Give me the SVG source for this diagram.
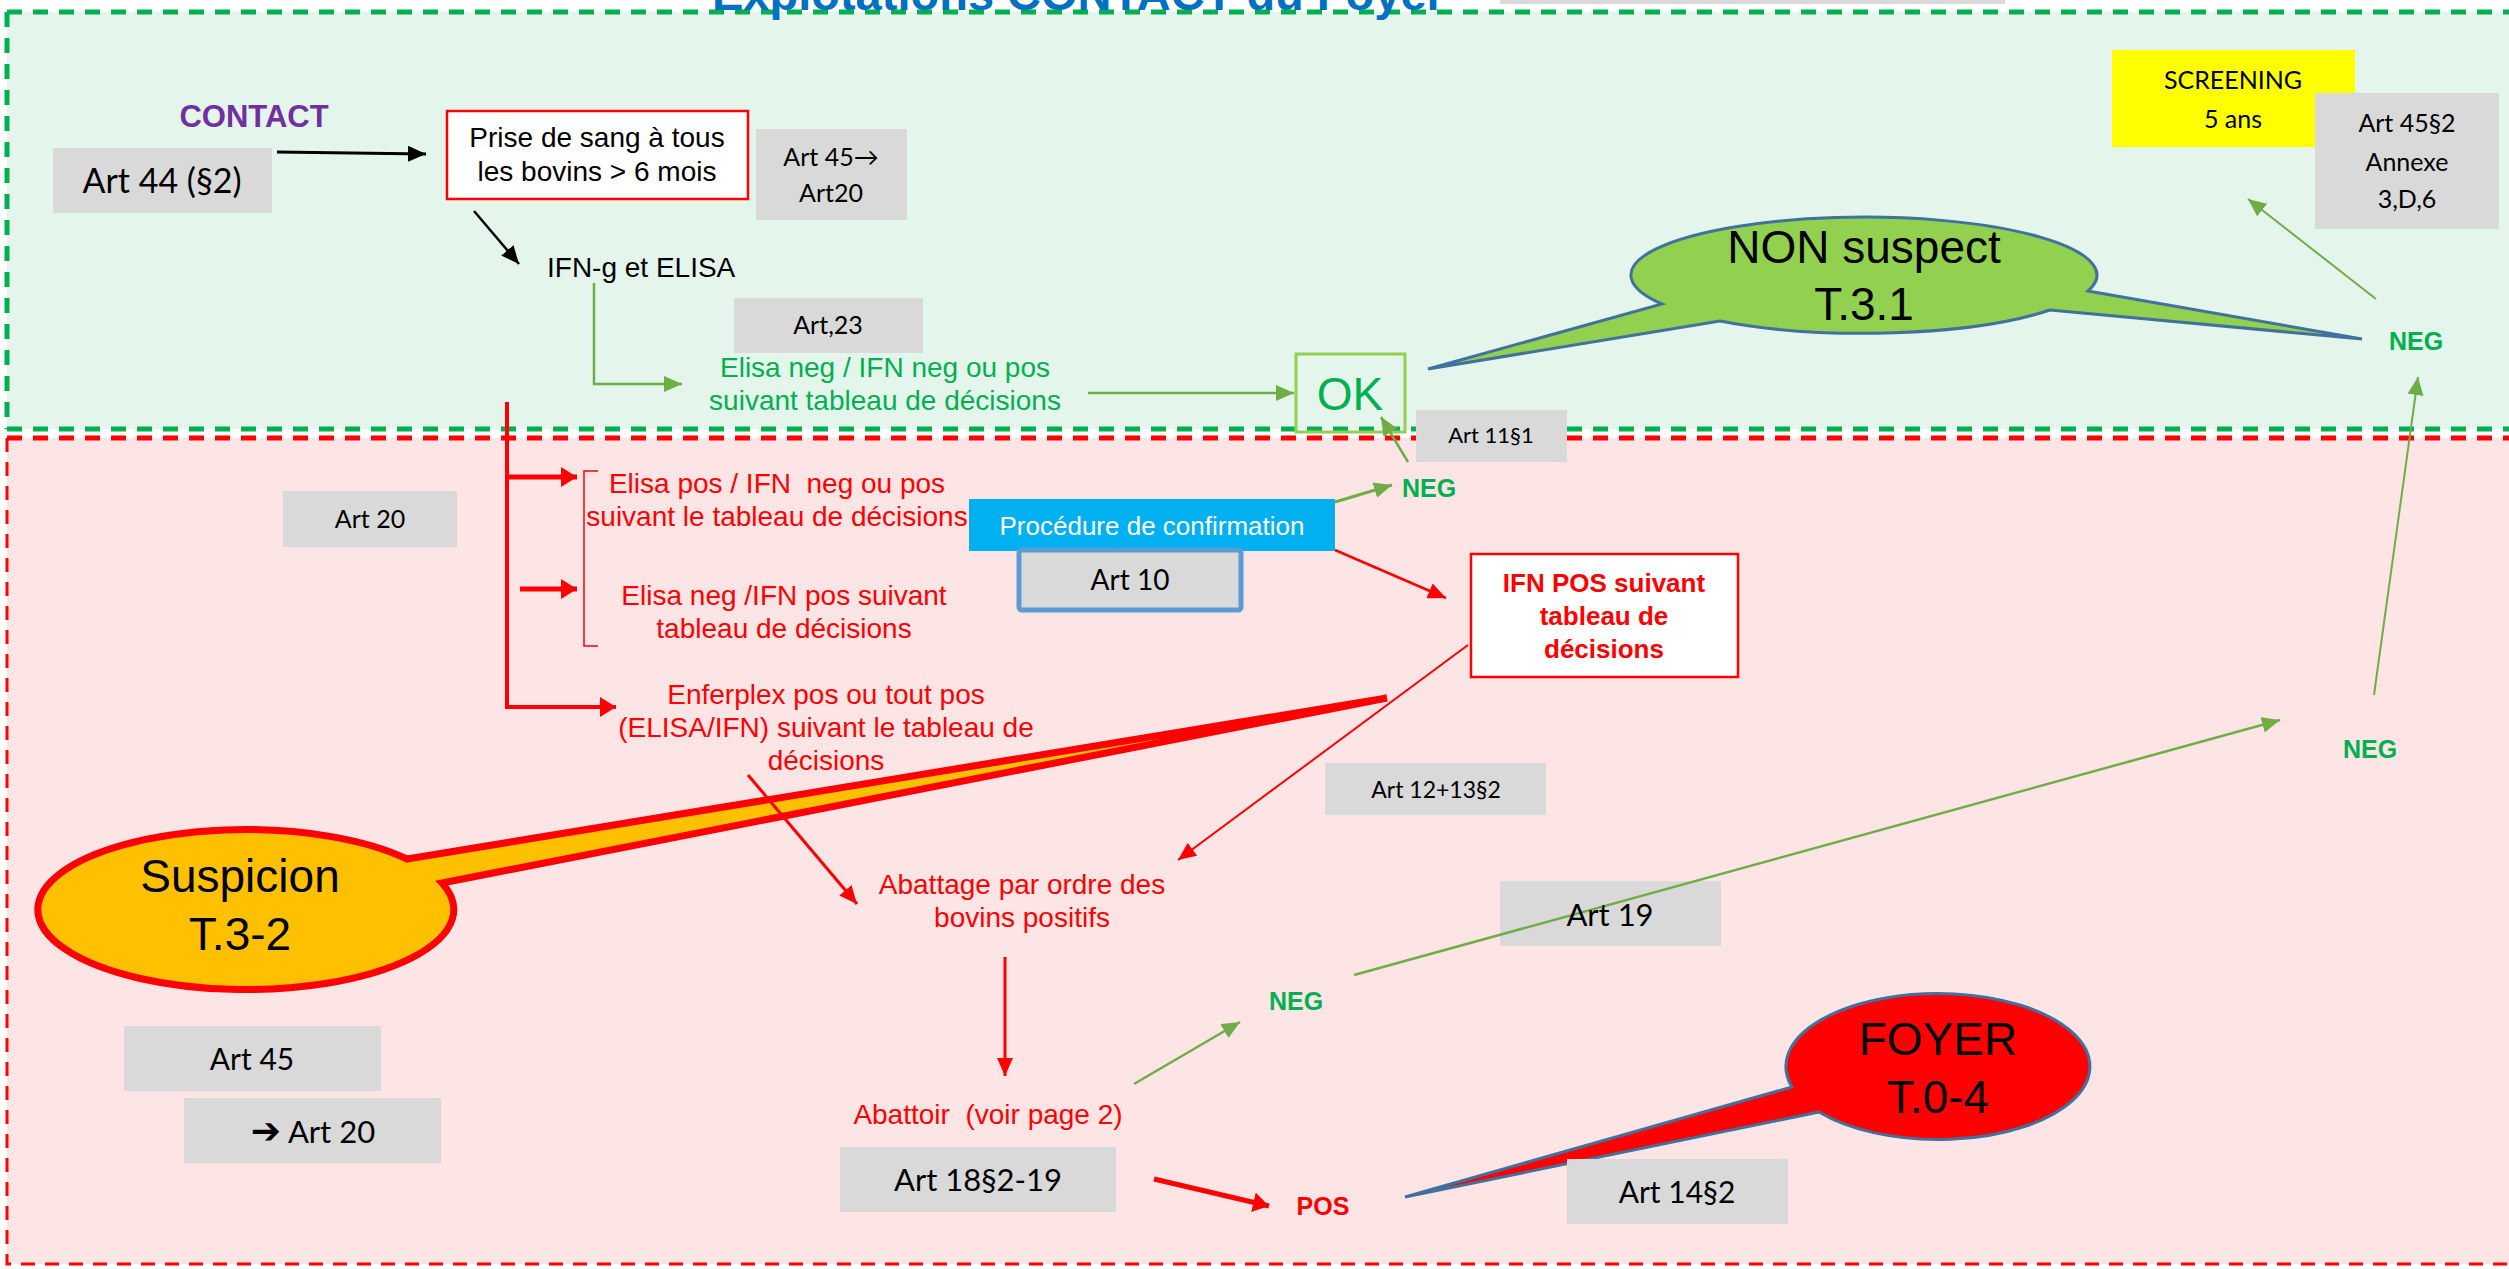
<svg xmlns="http://www.w3.org/2000/svg" width="2509" height="1269" viewBox="0 0 2509 1269">
<defs>
<style>
.ar{font-family:"Liberation Sans",Arial,sans-serif;}
.cal{font-family:Lato,"Liberation Sans",sans-serif;fill:#000;}
.gbox{fill:#D9D9D9;}
.red{fill:#FF0000;}
.grn{fill:#00B050;}
.b{font-weight:bold;}
.pre{white-space:pre;}
</style>
<marker id="mk-black" markerUnits="userSpaceOnUse" markerWidth="18" markerHeight="16" viewBox="0 0 18 16" refX="18" refY="8" orient="auto"><path d="M0,0 L18,8 L0,16 z" fill="#000"/></marker>
<marker id="mk-green" markerUnits="userSpaceOnUse" markerWidth="18" markerHeight="16" viewBox="0 0 18 16" refX="18" refY="8" orient="auto"><path d="M0,0 L18,8 L0,16 z" fill="#70AD47"/></marker>
<marker id="mk-red" markerUnits="userSpaceOnUse" markerWidth="18" markerHeight="16" viewBox="0 0 18 16" refX="18" refY="8" orient="auto"><path d="M0,0 L18,8 L0,16 z" fill="#FF0000"/></marker>
<marker id="mk-redbig" markerUnits="userSpaceOnUse" markerWidth="16" markerHeight="20" viewBox="0 0 16 20" refX="16" refY="10" orient="auto"><path d="M0,0 L16,10 L0,20 z" fill="#FF0000"/></marker>
</defs>
<rect width="2509" height="1269" fill="#FFFFFF"/>
<!-- zones -->
<g id="zone-green">
<rect x="7" y="12" width="2510" height="417" fill="#E4F6EC"/>
<path d="M7,12 H2509 M7,12 V429 M7,429 H2509" fill="none" stroke="#00B050" stroke-width="5" stroke-dasharray="15,11"/>
</g>
<g id="zone-red">
<rect x="7" y="438" width="2510" height="826" fill="#FDE5E5"/>
<path d="M7,438 H2509" fill="none" stroke="#FF0000" stroke-width="5" stroke-dasharray="15,11"/>
<path d="M7,438 V1264 H2509" fill="none" stroke="#FF0000" stroke-width="3" stroke-dasharray="14,10"/>
</g>
<rect x="1500" y="0" width="505" height="4" fill="#D9D9D9"/>
<text class="ar b" x="712" y="10" font-size="47" fill="#0070C0">Explotations CONTACT du Foyer</text>

<!-- nodes -->
<g id="n-contact"><text class="ar b" x="254" y="127" font-size="31" fill="#7030A0" text-anchor="middle">CONTACT</text></g>
<g id="n-art44"><rect class="gbox" x="53" y="148" width="219" height="65"/><text class="cal" x="162" y="193" font-size="34" text-anchor="middle">Art 44 (§2)</text></g>
<g id="n-prise"><rect x="447" y="111" width="301" height="88" fill="#FFFFFF" stroke="#FF0000" stroke-width="2.5"/>
<text class="ar" x="597" y="147" font-size="28" text-anchor="middle">Prise de sang à tous</text>
<text class="ar" x="597" y="181" font-size="28" text-anchor="middle">les bovins &gt; 6 mois</text></g>
<g id="n-art45-20"><rect class="gbox" x="756" y="129" width="151" height="91"/>
<text class="cal" x="831" y="166" font-size="25" text-anchor="middle">Art 45→</text>
<text class="cal" x="831" y="202" font-size="25" text-anchor="middle">Art20</text></g>
<g id="n-ifng"><text class="ar" x="547" y="277" font-size="28">IFN-g et ELISA</text></g>
<g id="n-art23"><rect class="gbox" x="734" y="298" width="189" height="55"/><text class="cal" x="828" y="334" font-size="25" text-anchor="middle">Art,23</text></g>
<g id="n-elisaneg"><text class="ar grn" x="885" y="377" font-size="28" text-anchor="middle">Elisa neg / IFN neg ou pos</text>
<text class="ar grn" x="885" y="410" font-size="28" text-anchor="middle">suivant tableau de décisions</text></g>
<g id="n-ok"><rect x="1296" y="354" width="109" height="78" fill="none" stroke="#92D050" stroke-width="3"/>
<text class="ar grn" x="1350" y="410" font-size="46" text-anchor="middle">OK</text></g>
<g id="n-nonsuspect">
<path d="M2088,291 L2362,339 L2050,310 A233,58 0 0 1 1720,321 L1428,369 L1662,304 A233,58 0 1 1 2088,291 Z" fill="#92D050" stroke="#41719C" stroke-width="3"/>
<text class="ar" x="1864" y="263" font-size="46" text-anchor="middle">NON suspect</text>
<text class="ar" x="1864" y="320" font-size="46" text-anchor="middle">T.3.1</text></g>
<g id="n-screening"><rect x="2112" y="50" width="243" height="97" fill="#FFFF00"/>
<text class="cal" x="2233" y="89" font-size="25" text-anchor="middle">SCREENING</text>
<text class="cal" x="2233" y="128" font-size="25" text-anchor="middle">5 ans</text></g>
<g id="n-art45-2"><rect class="gbox" x="2315" y="93" width="184" height="136"/>
<text class="cal" x="2407" y="132" font-size="25" text-anchor="middle">Art 45§2</text>
<text class="cal" x="2407" y="171" font-size="25" text-anchor="middle">Annexe</text>
<text class="cal" x="2407" y="208" font-size="25" text-anchor="middle">3,D,6</text></g>
<g id="n-neg-top"><text class="ar b grn" x="2416" y="350" font-size="25" text-anchor="middle">NEG</text></g>
<g id="n-art11"><rect class="gbox" x="1416" y="410" width="151" height="52"/><text class="cal" x="1491" y="443" font-size="22" text-anchor="middle">Art 11§1</text></g>
<g id="n-neg-mid"><text class="ar b grn" x="1429" y="497" font-size="25" text-anchor="middle">NEG</text></g>
<g id="n-art20"><rect class="gbox" x="283" y="491" width="174" height="56"/><text class="cal" x="370" y="528" font-size="25" text-anchor="middle">Art 20</text></g>
<g id="n-elisapos"><path d="M598,471 H584 V646 H598" fill="none" stroke="#FF0000" stroke-width="1.5"/>
<text class="ar red pre" x="777" y="493" font-size="28" text-anchor="middle">Elisa pos / IFN  neg ou pos</text>
<text class="ar red" x="777" y="526" font-size="28" text-anchor="middle">suivant le tableau de décisions</text></g>
<g id="n-elisaneg-ifnpos"><text class="ar red" x="784" y="605" font-size="28" text-anchor="middle">Elisa neg /IFN pos suivant</text>
<text class="ar red" x="784" y="638" font-size="28" text-anchor="middle">tableau de décisions</text></g>
<g id="n-enferplex"><text class="ar red" x="826" y="704" font-size="28" text-anchor="middle">Enferplex pos ou tout pos</text>
<text class="ar red" x="826" y="737" font-size="28" text-anchor="middle">(ELISA/IFN) suivant le tableau de</text>
<text class="ar red" x="826" y="770" font-size="28" text-anchor="middle">décisions</text></g>
<g id="n-procedure"><rect x="969" y="499" width="366" height="52" fill="#00B0F0"/>
<text class="ar" x="1152" y="535" font-size="26" fill="#FFFFFF" text-anchor="middle">Procédure de confirmation</text></g>
<g id="n-art10"><rect x="1019" y="550" width="222" height="60" rx="3" fill="#D9D9D9" stroke="#5B9BD5" stroke-width="5"/>
<text class="cal" x="1130" y="590" font-size="28" text-anchor="middle">Art 10</text></g>
<g id="n-ifnpos"><rect x="1471" y="554" width="267" height="123" fill="#FFFFFF" stroke="#FF0000" stroke-width="2.5"/>
<text class="ar b red" x="1604" y="592" font-size="26" text-anchor="middle">IFN POS suivant</text>
<text class="ar b red" x="1604" y="625" font-size="26" text-anchor="middle">tableau de</text>
<text class="ar b red" x="1604" y="658" font-size="26" text-anchor="middle">décisions</text></g>
<g id="n-art12"><rect class="gbox" x="1325" y="763" width="221" height="52"/><text class="cal" x="1436" y="798" font-size="23" text-anchor="middle">Art 12+13§2</text></g>
<g id="n-neg-right"><text class="ar b grn" x="2370" y="758" font-size="25" text-anchor="middle">NEG</text></g>
<g id="n-suspicion">
<path d="M407,859 L1387,698 L442,883 A208,80 0 1 1 407,859 Z" fill="#FFC000" stroke="#FF0000" stroke-width="7" stroke-linejoin="miter"/>
<text class="ar" x="240" y="892" font-size="46" text-anchor="middle">Suspicion</text>
<text class="ar" x="240" y="950" font-size="46" text-anchor="middle">T.3-2</text></g>
<g id="n-abattage"><text class="ar red" x="1022" y="894" font-size="28" text-anchor="middle">Abattage par ordre des</text>
<text class="ar red" x="1022" y="927" font-size="28" text-anchor="middle">bovins positifs</text></g>
<g id="n-art19"><rect class="gbox" x="1500" y="881" width="221" height="65"/></g>
<g id="n-neg-low"><text class="ar b grn" x="1296" y="1010" font-size="25" text-anchor="middle">NEG</text></g>
<g id="n-abattoir"><text class="ar red pre" x="988" y="1124" font-size="28" text-anchor="middle">Abattoir  (voir page 2)</text></g>
<g id="n-art18"><rect class="gbox" x="840" y="1147" width="276" height="65"/><text class="cal" x="978" y="1191" font-size="31" text-anchor="middle">Art 18§2-19</text></g>
<g id="n-pos"><text class="ar b red" x="1323" y="1215" font-size="25" text-anchor="middle">POS</text></g>
<g id="n-foyer">
<path d="M1819,1112 L1405,1197 L1792,1087 A152,73 0 1 1 1819,1112 Z" fill="#FF0000" stroke="#41719C" stroke-width="3"/>
<text class="ar" x="1938" y="1055" font-size="46" text-anchor="middle">FOYER</text>
<text class="ar" x="1938" y="1113" font-size="46" text-anchor="middle">T.0-4</text></g>
<g id="n-art14"><rect class="gbox" x="1567" y="1159" width="221" height="65"/><text class="cal" x="1677" y="1203" font-size="30" text-anchor="middle">Art 14§2</text></g>
<g id="n-art45"><rect class="gbox" x="124" y="1026" width="257" height="65"/><text class="cal" x="252" y="1070" font-size="30" text-anchor="middle">Art 45</text></g>
<g id="n-art20b"><rect class="gbox" x="184" y="1098" width="257" height="65"/><text class="cal" x="313" y="1143" font-size="31" text-anchor="middle"><tspan font-family="'DejaVu Sans',sans-serif" font-weight="bold" font-size="36">➔</tspan> Art 20</text></g>

<!-- connectors -->
<g id="connectors" fill="none">
<line x1="277" y1="152" x2="426" y2="154" stroke="#000" stroke-width="3" marker-end="url(#mk-black)"/>
<line x1="474" y1="211" x2="519" y2="264" stroke="#000" stroke-width="2.5" marker-end="url(#mk-black)"/>
<polyline points="594,283 594,384 682,384" stroke="#70AD47" stroke-width="2.5" marker-end="url(#mk-green)"/>
<line x1="1088" y1="393" x2="1294" y2="393" stroke="#70AD47" stroke-width="2.5" marker-end="url(#mk-green)"/>
<line x1="1408" y1="462" x2="1381" y2="417" stroke="#70AD47" stroke-width="2.5" marker-end="url(#mk-green)"/>
<line x1="1335" y1="502" x2="1392" y2="485" stroke="#70AD47" stroke-width="3" marker-end="url(#mk-green)"/>
<polyline points="507,402 507,707 616,707" stroke="#FF0000" stroke-width="4" marker-end="url(#mk-redbig)"/>
<line x1="507" y1="477" x2="577" y2="477" stroke="#FF0000" stroke-width="5" marker-end="url(#mk-redbig)"/>
<line x1="520" y1="589" x2="577" y2="589" stroke="#FF0000" stroke-width="5" marker-end="url(#mk-redbig)"/>
<line x1="1335" y1="550" x2="1446" y2="598" stroke="#FF0000" stroke-width="2.5" marker-end="url(#mk-red)"/>
<line x1="1468" y1="645" x2="1178" y2="860" stroke="#FF0000" stroke-width="2" marker-end="url(#mk-red)"/>
<line x1="748" y1="775" x2="857" y2="904" stroke="#FF0000" stroke-width="3" marker-end="url(#mk-red)"/>
<line x1="1005" y1="957" x2="1005" y2="1076" stroke="#FF0000" stroke-width="3" marker-end="url(#mk-red)"/>
<line x1="1154" y1="1179" x2="1269" y2="1206" stroke="#FF0000" stroke-width="5" marker-end="url(#mk-redbig)"/>
<line x1="1134" y1="1084" x2="1240" y2="1022" stroke="#70AD47" stroke-width="2.5" marker-end="url(#mk-green)"/>
<line x1="1354" y1="975" x2="2280" y2="720" stroke="#70AD47" stroke-width="2.5" marker-end="url(#mk-green)"/>
<line x1="2374" y1="695" x2="2418" y2="377" stroke="#70AD47" stroke-width="2" marker-end="url(#mk-green)"/>
<line x1="2376" y1="299" x2="2248" y2="199" stroke="#70AD47" stroke-width="2" marker-end="url(#mk-green)"/>
</g>
<g id="n-art19-label"><text class="cal" x="1610" y="926" font-size="31" text-anchor="middle">Art 19</text></g>
</svg>
